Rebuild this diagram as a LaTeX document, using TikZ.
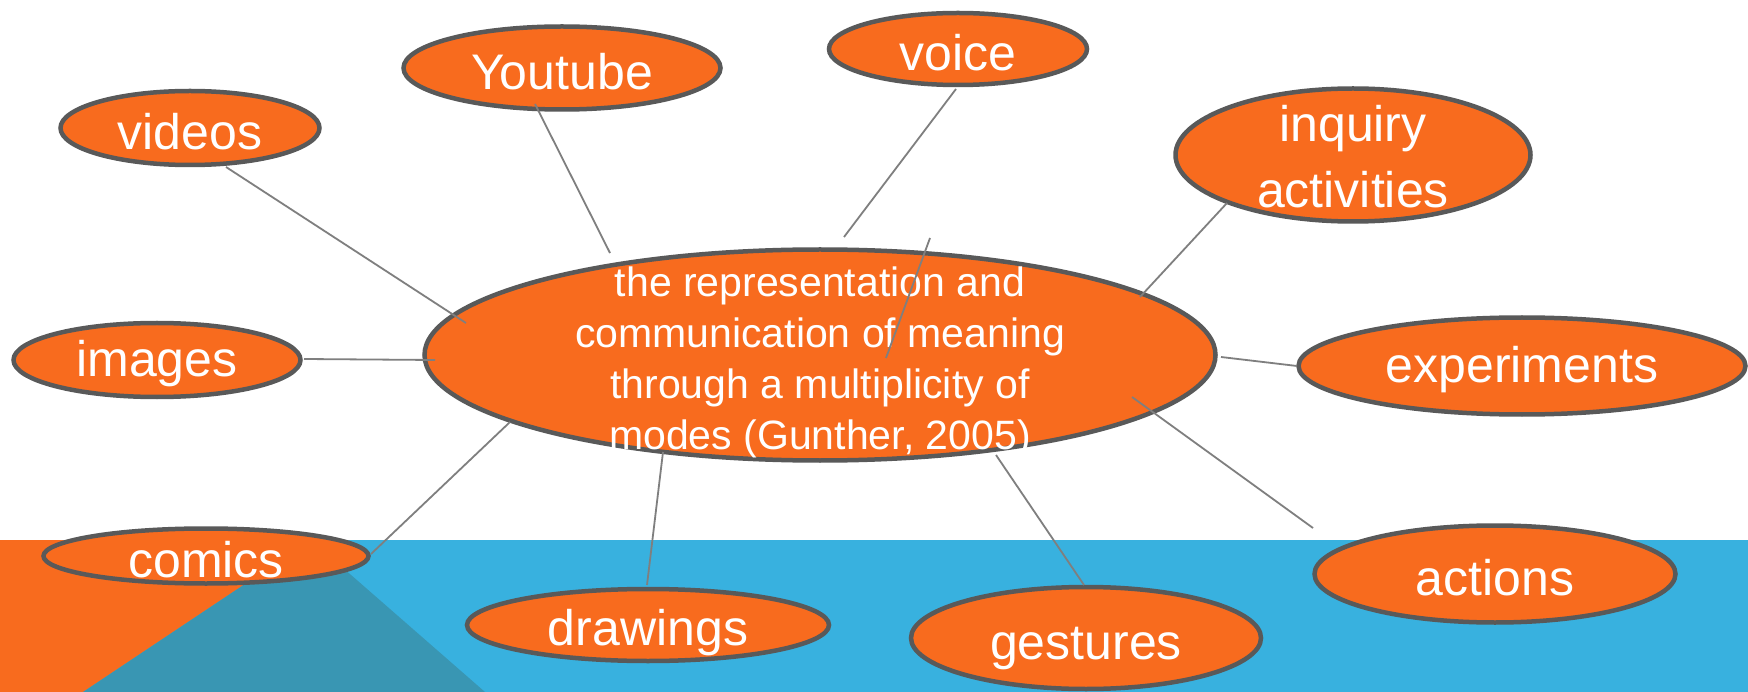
\documentclass[tikz,border=0pt]{standalone}
\usepackage{fontspec}
\setmainfont{Liberation Sans}
\usetikzlibrary{shapes.geometric}
\definecolor{bubfill}{HTML}{F86B1E}
\definecolor{bubline}{HTML}{595959}
\definecolor{bandblue}{HTML}{38B1DF}
\definecolor{bandorange}{HTML}{F86B1E}
\definecolor{bandteal}{HTML}{3996B3}
\definecolor{linegray}{HTML}{7F7F7F}
\tikzset{
  bub/.style={ellipse, draw=bubline, fill=bubfill, line width=4.5pt, inner sep=0pt, outer sep=0pt},
  lbl/.style={text=white, font=\fontsize{50}{66}\selectfont, align=center, inner sep=0pt, yshift=-4pt},
  clbl/.style={text=white, font=\fontsize{41}{51}\selectfont, align=center, inner sep=0pt},
  conn/.style={draw=linegray, line width=1.8pt}
}
\begin{document}
\begin{tikzpicture}[x=1pt,y=-1pt]
\useasboundingbox (0,0) rectangle (1748,692);
\fill[white] (0,0) rectangle (1748,692);
\fill[bandblue] (0,540) rectangle (1748,692);
\fill[bandorange] (0,540) -- (311,540) -- (83,692) -- (0,692) -- cycle;
\fill[bandteal] (311,540) -- (83,692) -- (485,692) -- cycle;

% nodes
\node[bub, minimum width=791pt, minimum height=211pt,
  label={[clbl, yshift=-7pt]center:{the representation and\\communication of meaning\\through a multiplicity of\\modes (Gunther, 2005)}}] (center) at (820,355) {};
\node[bub, minimum width=259pt, minimum height=74pt, label={[lbl]center:videos}] (videos) at (190,128) {};
\node[bub, minimum width=317pt, minimum height=83pt, label={[lbl]center:Youtube}] (youtube) at (562,68) {};
\node[bub, minimum width=258pt, minimum height=72pt, label={[lbl]center:voice}] (voice) at (958,49) {};
\node[bub, minimum width=355pt, minimum height=133pt, label={[lbl, yshift=2pt]center:{inquiry\\activities}}] (inquiry) at (1353,155) {};
\node[bub, minimum width=287pt, minimum height=74pt, label={[lbl]center:images}] (images) at (157,360) {};
\node[bub, minimum width=447pt, minimum height=97pt, label={[lbl]center:experiments}] (experiments) at (1522,366) {};
\node[bub, minimum width=325pt, minimum height=55pt, label={[lbl]center:comics}] (comics) at (206,556) {};
\node[bub, minimum width=362pt, minimum height=72pt, label={[lbl, yshift=-4pt]center:drawings}] (drawings) at (648,625) {};
\node[bub, minimum width=350pt, minimum height=102pt, label={[lbl, yshift=-7pt]center:gestures}] (gestures) at (1086,638) {};
\node[bub, minimum width=361pt, minimum height=97pt, label={[lbl]center:actions}] (actions) at (1495,574) {};

% connector end points
\coordinate (videosA) at (226,167);      \coordinate (videosB) at (466,323);
\coordinate (youtubeA) at (535,104);     \coordinate (youtubeB) at (610,253);
\coordinate (voiceA) at (956,89);        \coordinate (voiceB) at (844,237);
\coordinate (midA) at (930,238);         \coordinate (midB) at (886,358);
\coordinate (inquiryA) at (1227,203);    \coordinate (inquiryB) at (1140,297);
\coordinate (imagesA) at (304,359);      \coordinate (imagesB) at (435,360);
\coordinate (experimentsA) at (1297,366);\coordinate (experimentsB) at (1221,357);
\coordinate (comicsA) at (371,554);      \coordinate (comicsB) at (510,422);
\coordinate (drawingsA) at (647,585);    \coordinate (drawingsB) at (663,452);
\coordinate (gesturesA) at (1084,585);   \coordinate (gesturesB) at (996,455);
\coordinate (actionsA) at (1313,528);    \coordinate (actionsB) at (1132,397);

% connectors
\draw[conn] (videosA) -- (videosB);
\draw[conn] (youtubeA) -- (youtubeB);
\draw[conn] (voiceA) -- (voiceB);
\draw[conn] (midA) -- (midB);
\draw[conn] (inquiryA) -- (inquiryB);
\draw[conn] (imagesA) -- (imagesB);
\draw[conn] (experimentsA) -- (experimentsB);
\draw[conn] (comicsA) -- (comicsB);
\draw[conn] (drawingsA) -- (drawingsB);
\draw[conn] (gesturesA) -- (gesturesB);
\draw[conn] (actionsA) -- (actionsB);
\end{tikzpicture}
\end{document}
